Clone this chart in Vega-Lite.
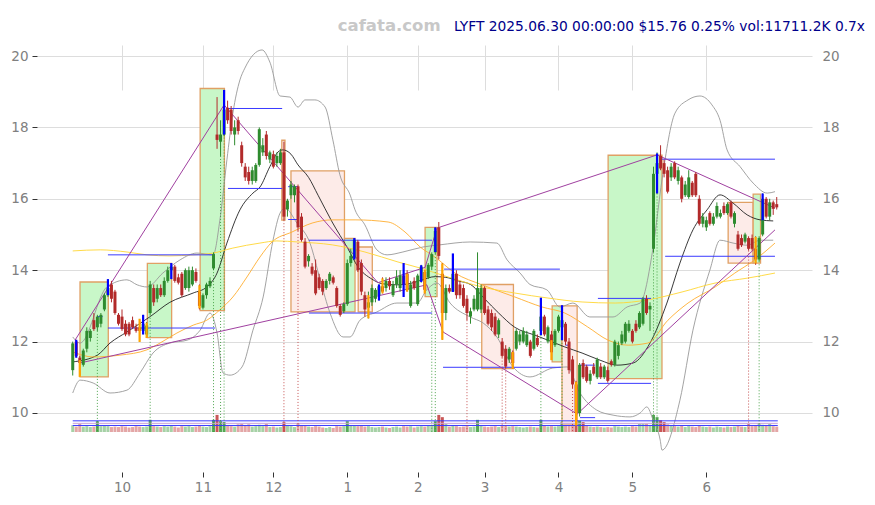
{
  "$schema": "https://vega.github.io/schema/vega-lite/v6.json",
  "width": 775,
  "height": 457,
  "autosize": {"type": "none"},
  "padding": {"left": 37, "top": 10, "right": 63, "bottom": 38},
  "background": "white",
  "config": {
    "view": {"stroke": null},
    "font": "DejaVu Sans",
    "scale": {"continuousPadding": 0},
    "axis": {"labelFont": "DejaVu Sans", "labelColor": "#808080", "labelFontSize": 13.5, "domain": false, "gridColor": "#dddddd", "gridWidth": 1, "tickColor": "#333333", "title": null}
  },
  "datasets": {
    "bars": [
      {"i":0,"o":11.2,"h":12.0,"l":11.05,"c":11.95,"v":15},
      {"i":1,"o":12.0,"h":12.05,"l":11.55,"c":11.6,"v":12},
      {"i":2,"o":11.55,"h":11.6,"l":11.05,"c":11.4,"v":18},
      {"i":3,"o":11.35,"h":11.8,"l":11.3,"c":11.75,"v":12},
      {"i":4,"o":11.8,"h":12.4,"l":11.7,"c":12.3,"v":13},
      {"i":5,"o":12.1,"h":12.35,"l":12.0,"c":12.3,"v":11},
      {"i":6,"o":12.6,"h":12.8,"l":12.3,"c":12.35,"v":12},
      {"i":7,"o":12.4,"h":12.75,"l":12.3,"c":12.7,"v":24},
      {"i":8,"o":12.5,"h":12.8,"l":12.4,"c":12.75,"v":13},
      {"i":9,"o":12.9,"h":13.35,"l":12.85,"c":13.3,"v":14},
      {"i":10,"o":13.3,"h":13.75,"l":13.25,"c":13.5,"v":13},
      {"i":11,"o":13.6,"h":13.7,"l":13.1,"c":13.2,"v":11},
      {"i":12,"o":13.4,"h":13.45,"l":12.75,"c":12.8,"v":12},
      {"i":13,"o":12.75,"h":12.8,"l":12.45,"c":12.5,"v":11},
      {"i":14,"o":12.7,"h":12.9,"l":12.3,"c":12.35,"v":13},
      {"i":15,"o":12.5,"h":12.6,"l":12.15,"c":12.2,"v":12},
      {"i":16,"o":12.5,"h":12.55,"l":12.15,"c":12.2,"v":10},
      {"i":17,"o":12.6,"h":12.7,"l":12.35,"c":12.4,"v":11},
      {"i":18,"o":12.4,"h":12.5,"l":12.25,"c":12.3,"v":13},
      {"i":19,"o":12.4,"h":12.6,"l":12.0,"c":12.3,"v":12},
      {"i":20,"o":12.3,"h":12.75,"l":12.2,"c":12.5,"v":11},
      {"i":21,"o":12.2,"h":12.55,"l":12.1,"c":12.45,"v":12},
      {"i":22,"o":12.8,"h":13.7,"l":12.75,"c":13.6,"v":27},
      {"i":23,"o":13.5,"h":13.6,"l":13.0,"c":13.1,"v":13},
      {"i":24,"o":13.2,"h":13.6,"l":13.1,"c":13.5,"v":12},
      {"i":25,"o":13.5,"h":13.6,"l":13.25,"c":13.3,"v":11},
      {"i":26,"o":13.3,"h":13.8,"l":13.25,"c":13.7,"v":13},
      {"i":27,"o":13.7,"h":14.1,"l":13.65,"c":14.0,"v":12},
      {"i":28,"o":14.0,"h":14.2,"l":13.75,"c":14.1,"v":14},
      {"i":29,"o":14.1,"h":14.15,"l":13.65,"c":13.7,"v":12},
      {"i":30,"o":13.8,"h":13.9,"l":13.6,"c":13.65,"v":10},
      {"i":31,"o":13.9,"h":13.95,"l":13.25,"c":13.3,"v":13},
      {"i":32,"o":13.5,"h":14.05,"l":13.45,"c":14.0,"v":12},
      {"i":33,"o":13.5,"h":14.1,"l":13.4,"c":14.0,"v":13},
      {"i":34,"o":13.6,"h":14.1,"l":13.55,"c":14.0,"v":11},
      {"i":35,"o":13.95,"h":14.05,"l":13.65,"c":13.7,"v":12},
      {"i":36,"o":13.4,"h":13.6,"l":12.9,"c":13.0,"v":14},
      {"i":37,"o":12.95,"h":13.35,"l":12.9,"c":13.3,"v":12},
      {"i":38,"o":13.3,"h":13.65,"l":13.2,"c":13.6,"v":11},
      {"i":39,"o":13.55,"h":13.8,"l":13.5,"c":13.7,"v":13},
      {"i":40,"o":14.05,"h":14.5,"l":14.0,"c":14.45,"v":27},
      {"i":41,"o":17.8,"h":18.85,"l":17.4,"c":17.65,"v":38},
      {"i":42,"o":17.6,"h":18.2,"l":17.2,"c":17.8,"v":24},
      {"i":43,"o":17.8,"h":19.05,"l":17.75,"c":18.5,"v":22},
      {"i":44,"o":18.55,"h":18.75,"l":18.1,"c":18.2,"v":14},
      {"i":45,"o":18.5,"h":18.6,"l":17.8,"c":17.9,"v":13},
      {"i":46,"o":17.8,"h":18.2,"l":17.5,"c":18.0,"v":12},
      {"i":47,"o":18.2,"h":18.3,"l":17.8,"c":17.9,"v":17},
      {"i":48,"o":17.5,"h":17.6,"l":16.9,"c":17.0,"v":18},
      {"i":49,"o":16.9,"h":17.0,"l":16.5,"c":16.6,"v":15},
      {"i":50,"o":16.75,"h":16.9,"l":16.4,"c":16.5,"v":17},
      {"i":51,"o":16.5,"h":16.9,"l":16.4,"c":16.8,"v":12},
      {"i":52,"o":16.5,"h":17.0,"l":16.45,"c":16.95,"v":13},
      {"i":53,"o":16.95,"h":18.0,"l":16.9,"c":17.95,"v":16},
      {"i":54,"o":17.3,"h":17.7,"l":17.2,"c":17.5,"v":13},
      {"i":55,"o":17.8,"h":17.9,"l":17.1,"c":17.2,"v":18},
      {"i":56,"o":17.1,"h":17.35,"l":17.0,"c":17.3,"v":11},
      {"i":57,"o":17.25,"h":17.35,"l":16.85,"c":16.9,"v":12},
      {"i":58,"o":17.0,"h":17.3,"l":16.9,"c":17.2,"v":10},
      {"i":59,"o":17.0,"h":17.4,"l":16.95,"c":17.3,"v":11},
      {"i":60,"o":17.3,"h":17.6,"l":15.4,"c":15.5,"v":22},
      {"i":61,"o":15.7,"h":16.0,"l":15.5,"c":15.95,"v":14},
      {"i":62,"o":16.1,"h":16.5,"l":16.0,"c":16.4,"v":13},
      {"i":63,"o":16.1,"h":16.4,"l":15.9,"c":16.35,"v":11},
      {"i":64,"o":16.35,"h":16.4,"l":15.1,"c":15.2,"v":20},
      {"i":65,"o":15.5,"h":15.6,"l":14.8,"c":14.85,"v":15},
      {"i":66,"o":14.8,"h":14.9,"l":14.05,"c":14.1,"v":14},
      {"i":67,"o":14.25,"h":14.45,"l":14.1,"c":14.4,"v":12},
      {"i":68,"o":14.1,"h":14.2,"l":13.85,"c":13.9,"v":11},
      {"i":69,"o":14.0,"h":14.3,"l":13.3,"c":13.35,"v":13},
      {"i":70,"o":13.8,"h":13.9,"l":13.45,"c":13.5,"v":12},
      {"i":71,"o":13.7,"h":13.75,"l":13.3,"c":13.4,"v":10},
      {"i":72,"o":13.5,"h":13.75,"l":13.45,"c":13.7,"v":9},
      {"i":73,"o":13.7,"h":13.95,"l":13.6,"c":13.9,"v":11},
      {"i":74,"o":13.8,"h":13.85,"l":13.6,"c":13.65,"v":9},
      {"i":75,"o":13.5,"h":13.55,"l":12.95,"c":13.0,"v":13},
      {"i":76,"o":13.0,"h":13.05,"l":12.7,"c":12.75,"v":12},
      {"i":77,"o":12.85,"h":13.1,"l":12.8,"c":13.05,"v":13},
      {"i":78,"o":13.05,"h":14.3,"l":13.0,"c":14.2,"v":24},
      {"i":79,"o":14.2,"h":14.6,"l":14.1,"c":14.4,"v":15},
      {"i":80,"o":14.35,"h":14.9,"l":14.3,"c":14.85,"v":14},
      {"i":81,"o":14.8,"h":14.85,"l":13.95,"c":14.0,"v":13},
      {"i":82,"o":14.2,"h":14.3,"l":13.3,"c":13.4,"v":14},
      {"i":83,"o":13.3,"h":13.4,"l":12.7,"c":12.9,"v":12},
      {"i":84,"o":12.95,"h":13.4,"l":12.65,"c":13.1,"v":13},
      {"i":85,"o":13.1,"h":13.6,"l":13.0,"c":13.5,"v":11},
      {"i":86,"o":13.2,"h":13.5,"l":13.1,"c":13.45,"v":10},
      {"i":87,"o":13.3,"h":13.6,"l":13.15,"c":13.55,"v":11},
      {"i":88,"o":13.55,"h":13.8,"l":13.35,"c":13.4,"v":12},
      {"i":89,"o":13.5,"h":13.8,"l":13.4,"c":13.7,"v":10},
      {"i":90,"o":13.7,"h":13.8,"l":13.45,"c":13.55,"v":9},
      {"i":91,"o":13.3,"h":13.7,"l":13.25,"c":13.6,"v":11},
      {"i":92,"o":13.6,"h":14.0,"l":13.5,"c":13.8,"v":12},
      {"i":93,"o":13.5,"h":14.0,"l":13.4,"c":13.85,"v":10},
      {"i":94,"o":13.85,"h":14.2,"l":13.25,"c":13.6,"v":13},
      {"i":95,"o":13.9,"h":14.0,"l":13.4,"c":13.45,"v":12},
      {"i":96,"o":13.0,"h":13.7,"l":12.95,"c":13.6,"v":13},
      {"i":97,"o":13.7,"h":13.8,"l":13.45,"c":13.5,"v":10},
      {"i":98,"o":13.05,"h":13.9,"l":13.0,"c":13.85,"v":12},
      {"i":99,"o":13.7,"h":14.15,"l":13.65,"c":14.1,"v":13},
      {"i":100,"o":13.95,"h":14.0,"l":13.35,"c":13.45,"v":12},
      {"i":101,"o":13.8,"h":14.2,"l":13.75,"c":14.15,"v":14},
      {"i":102,"o":14.1,"h":14.5,"l":14.0,"c":14.45,"v":15},
      {"i":103,"o":14.5,"h":15.2,"l":14.45,"c":15.1,"v":24},
      {"i":104,"o":15.2,"h":15.35,"l":14.3,"c":14.4,"v":38},
      {"i":105,"o":13.9,"h":14.2,"l":12.05,"c":12.8,"v":33},
      {"i":106,"o":12.8,"h":13.6,"l":12.6,"c":13.5,"v":18},
      {"i":107,"o":13.5,"h":13.6,"l":13.35,"c":13.4,"v":12},
      {"i":108,"o":13.4,"h":14.45,"l":13.4,"c":13.9,"v":15},
      {"i":109,"o":13.9,"h":14.0,"l":13.2,"c":13.3,"v":13},
      {"i":110,"o":13.6,"h":13.7,"l":13.2,"c":13.3,"v":11},
      {"i":111,"o":13.5,"h":13.6,"l":12.95,"c":13.0,"v":12},
      {"i":112,"o":13.2,"h":13.3,"l":12.6,"c":12.8,"v":13},
      {"i":113,"o":12.7,"h":12.95,"l":12.5,"c":12.85,"v":11},
      {"i":114,"o":12.9,"h":13.3,"l":12.85,"c":13.2,"v":12},
      {"i":115,"o":12.9,"h":14.5,"l":12.85,"c":13.5,"v":27},
      {"i":116,"o":12.9,"h":13.6,"l":12.8,"c":13.5,"v":14},
      {"i":117,"o":13.5,"h":13.55,"l":12.75,"c":12.8,"v":12},
      {"i":118,"o":12.9,"h":13.0,"l":12.45,"c":12.5,"v":11},
      {"i":119,"o":12.8,"h":12.9,"l":12.3,"c":12.4,"v":12},
      {"i":120,"o":12.7,"h":12.8,"l":12.15,"c":12.2,"v":13},
      {"i":121,"o":12.2,"h":12.65,"l":12.1,"c":12.6,"v":11},
      {"i":122,"o":12.0,"h":12.1,"l":11.55,"c":11.6,"v":14},
      {"i":123,"o":11.8,"h":11.9,"l":11.25,"c":11.3,"v":13},
      {"i":124,"o":11.5,"h":11.85,"l":11.4,"c":11.8,"v":12},
      {"i":125,"o":11.7,"h":11.75,"l":11.24,"c":11.4,"v":13},
      {"i":126,"o":11.8,"h":12.35,"l":11.75,"c":12.3,"v":12},
      {"i":127,"o":12.0,"h":12.3,"l":11.9,"c":12.2,"v":11},
      {"i":128,"o":12.0,"h":12.4,"l":11.95,"c":12.3,"v":10},
      {"i":129,"o":11.9,"h":12.3,"l":11.85,"c":12.2,"v":11},
      {"i":130,"o":12.0,"h":12.05,"l":11.55,"c":11.6,"v":12},
      {"i":131,"o":11.8,"h":12.35,"l":11.75,"c":12.3,"v":11},
      {"i":132,"o":12.1,"h":12.2,"l":11.85,"c":11.9,"v":10},
      {"i":133,"o":12.3,"h":13.2,"l":12.2,"c":12.7,"v":27},
      {"i":134,"o":12.7,"h":12.75,"l":12.15,"c":12.2,"v":14},
      {"i":135,"o":12.0,"h":12.45,"l":11.95,"c":12.4,"v":12},
      {"i":136,"o":12.2,"h":12.3,"l":11.5,"c":11.7,"v":13},
      {"i":137,"o":11.9,"h":12.35,"l":11.85,"c":12.3,"v":12},
      {"i":138,"o":12.3,"h":12.75,"l":12.25,"c":12.7,"v":13},
      {"i":139,"o":12.4,"h":13.0,"l":12.05,"c":12.6,"v":22},
      {"i":140,"o":12.5,"h":12.55,"l":11.9,"c":12.0,"v":14},
      {"i":141,"o":12.0,"h":12.1,"l":11.1,"c":11.2,"v":16},
      {"i":142,"o":11.5,"h":11.6,"l":10.7,"c":10.8,"v":18},
      {"i":143,"o":10.8,"h":10.9,"l":9.65,"c":10.0,"v":27},
      {"i":144,"o":10.0,"h":11.4,"l":9.9,"c":11.35,"v":25},
      {"i":145,"o":11.4,"h":11.5,"l":10.95,"c":11.0,"v":22},
      {"i":146,"o":11.3,"h":11.35,"l":10.85,"c":10.9,"v":14},
      {"i":147,"o":10.9,"h":11.2,"l":10.8,"c":11.1,"v":12},
      {"i":148,"o":11.3,"h":11.4,"l":11.05,"c":11.1,"v":11},
      {"i":149,"o":11.0,"h":11.55,"l":10.95,"c":11.5,"v":12},
      {"i":150,"o":11.3,"h":11.4,"l":10.95,"c":11.0,"v":11},
      {"i":151,"o":11.0,"h":11.35,"l":10.95,"c":11.3,"v":10},
      {"i":152,"o":11.2,"h":11.3,"l":10.85,"c":10.9,"v":11},
      {"i":153,"o":11.45,"h":11.5,"l":11.3,"c":11.35,"v":10},
      {"i":154,"o":11.35,"h":12.05,"l":11.3,"c":12.0,"v":13},
      {"i":155,"o":11.6,"h":12.0,"l":11.5,"c":11.9,"v":12},
      {"i":156,"o":11.95,"h":12.3,"l":11.9,"c":12.2,"v":11},
      {"i":157,"o":12.0,"h":12.55,"l":11.95,"c":12.5,"v":12},
      {"i":158,"o":12.3,"h":12.6,"l":12.25,"c":12.5,"v":11},
      {"i":159,"o":12.3,"h":12.35,"l":11.95,"c":12.0,"v":13},
      {"i":160,"o":12.5,"h":12.6,"l":12.25,"c":12.3,"v":12},
      {"i":161,"o":12.4,"h":12.85,"l":12.35,"c":12.8,"v":18},
      {"i":162,"o":12.5,"h":13.25,"l":12.45,"c":13.2,"v":18},
      {"i":163,"o":13.2,"h":13.3,"l":12.75,"c":12.8,"v":18},
      {"i":164,"o":12.9,"h":13.1,"l":12.3,"c":13.0,"v":14},
      {"i":165,"o":14.6,"h":16.9,"l":14.5,"c":16.7,"v":38},
      {"i":166,"o":16.7,"h":17.3,"l":16.15,"c":17.0,"v":33},
      {"i":167,"o":17.2,"h":17.5,"l":16.8,"c":16.85,"v":26},
      {"i":168,"o":17.0,"h":17.1,"l":16.6,"c":16.7,"v":22},
      {"i":169,"o":16.8,"h":16.9,"l":16.15,"c":16.2,"v":17},
      {"i":170,"o":16.6,"h":17.0,"l":16.5,"c":16.9,"v":15},
      {"i":171,"o":17.0,"h":17.05,"l":16.55,"c":16.6,"v":13},
      {"i":172,"o":16.5,"h":16.9,"l":16.4,"c":16.8,"v":12},
      {"i":173,"o":16.6,"h":16.65,"l":15.9,"c":16.0,"v":14},
      {"i":174,"o":16.1,"h":16.5,"l":16.05,"c":16.4,"v":11},
      {"i":175,"o":16.05,"h":16.8,"l":16.0,"c":16.6,"v":13},
      {"i":176,"o":16.45,"h":16.5,"l":16.05,"c":16.1,"v":12},
      {"i":177,"o":16.7,"h":16.75,"l":16.05,"c":16.1,"v":11},
      {"i":178,"o":16.0,"h":16.1,"l":15.25,"c":15.3,"v":14},
      {"i":179,"o":15.3,"h":15.6,"l":15.2,"c":15.5,"v":12},
      {"i":180,"o":15.2,"h":15.5,"l":15.1,"c":15.4,"v":11},
      {"i":181,"o":15.6,"h":15.65,"l":15.25,"c":15.3,"v":12},
      {"i":182,"o":15.3,"h":15.6,"l":15.25,"c":15.5,"v":10},
      {"i":183,"o":15.5,"h":15.9,"l":15.45,"c":15.8,"v":12},
      {"i":184,"o":15.5,"h":15.7,"l":15.45,"c":15.6,"v":11},
      {"i":185,"o":15.8,"h":15.9,"l":15.55,"c":15.6,"v":10},
      {"i":186,"o":15.6,"h":15.9,"l":15.55,"c":15.85,"v":12},
      {"i":187,"o":15.9,"h":15.95,"l":15.45,"c":15.5,"v":11},
      {"i":188,"o":15.3,"h":15.65,"l":15.2,"c":15.6,"v":12},
      {"i":189,"o":15.0,"h":15.1,"l":14.55,"c":14.6,"v":14},
      {"i":190,"o":14.9,"h":15.0,"l":14.65,"c":14.7,"v":12},
      {"i":191,"o":14.8,"h":15.05,"l":14.75,"c":15.0,"v":11},
      {"i":192,"o":14.9,"h":14.95,"l":14.55,"c":14.6,"v":18},
      {"i":193,"o":14.9,"h":15.0,"l":14.55,"c":14.6,"v":13},
      {"i":194,"o":14.6,"h":14.95,"l":14.15,"c":14.3,"v":15},
      {"i":195,"o":14.3,"h":14.95,"l":14.25,"c":14.9,"v":20},
      {"i":196,"o":15.0,"h":16.15,"l":14.95,"c":16.0,"v":16},
      {"i":197,"o":16.0,"h":16.05,"l":15.45,"c":15.5,"v":14},
      {"i":198,"o":15.5,"h":16.0,"l":15.4,"c":15.9,"v":18},
      {"i":199,"o":15.9,"h":15.95,"l":15.55,"c":15.72,"v":13},
      {"i":200,"o":15.85,"h":16.05,"l":15.7,"c":15.76,"v":12}
    ],
    "lines": [
      {"s":"ma20","i":0,"p":11.43},{"s":"ma20","i":7,"p":11.62},{"s":"ma20","i":10.6,"p":11.96},{"s":"ma20","i":15.4,"p":12.27},{"s":"ma20","i":22,"p":12.7},{"s":"ma20","i":27.6,"p":13.1},{"s":"ma20","i":34.2,"p":13.36},{"s":"ma20","i":38.1,"p":13.53},{"s":"ma20","i":41,"p":13.92},{"s":"ma20","i":43.8,"p":14.76},{"s":"ma20","i":47.5,"p":15.69},{"s":"ma20","i":51.2,"p":16.16},{"s":"ma20","i":53.2,"p":16.33},{"s":"ma20","i":56,"p":16.9},{"s":"ma20","i":58.3,"p":17.31},{"s":"ma20","i":59.7,"p":17.37},{"s":"ma20","i":62,"p":17.25},{"s":"ma20","i":64,"p":16.95},{"s":"ma20","i":67,"p":16.6},{"s":"ma20","i":69.7,"p":16.1},{"s":"ma20","i":73.7,"p":15.35},{"s":"ma20","i":78.2,"p":14.6},{"s":"ma20","i":81,"p":14.1},{"s":"ma20","i":85,"p":13.75},{"s":"ma20","i":88,"p":13.62},{"s":"ma20","i":92.4,"p":13.59},{"s":"ma20","i":96,"p":13.63},{"s":"ma20","i":99,"p":13.72},{"s":"ma20","i":103,"p":13.82},{"s":"ma20","i":106,"p":13.8},{"s":"ma20","i":109.5,"p":13.7},{"s":"ma20","i":113,"p":13.6},{"s":"ma20","i":117,"p":13.2},{"s":"ma20","i":121,"p":12.8},{"s":"ma20","i":125.6,"p":12.4},{"s":"ma20","i":131.3,"p":12.18},{"s":"ma20","i":135,"p":12.04},{"s":"ma20","i":139.8,"p":11.85},{"s":"ma20","i":144.7,"p":11.68},{"s":"ma20","i":149.8,"p":11.48},{"s":"ma20","i":154.6,"p":11.34},{"s":"ma20","i":159.2,"p":11.4},{"s":"ma20","i":164,"p":11.96},{"s":"ma20","i":168.8,"p":13.08},{"s":"ma20","i":172.5,"p":14.2},{"s":"ma20","i":176.2,"p":15.13},{"s":"ma20","i":180.2,"p":15.69},{"s":"ma20","i":183.9,"p":16.11},{"s":"ma20","i":187.6,"p":15.88},{"s":"ma20","i":191.6,"p":15.55},{"s":"ma20","i":195.3,"p":15.41},{"s":"ma20","i":199,"p":15.38},
      {"s":"bbu","i":0,"p":12.13},{"s":"bbu","i":2.1,"p":11.96},{"s":"bbu","i":9.7,"p":13.53},{"s":"bbu","i":15.4,"p":13.73},{"s":"bbu","i":18.3,"p":13.59},{"s":"bbu","i":21.1,"p":13.53},{"s":"bbu","i":25.6,"p":13.92},{"s":"bbu","i":30.5,"p":14.29},{"s":"bbu","i":35.3,"p":14.48},{"s":"bbu","i":39.9,"p":14.43},{"s":"bbu","i":41.8,"p":15.4},{"s":"bbu","i":43.8,"p":17.09},{"s":"bbu","i":45.5,"p":18.4},{"s":"bbu","i":47.5,"p":19.33},{"s":"bbu","i":48.9,"p":19.66},{"s":"bbu","i":53.8,"p":20.17},{"s":"bbu","i":56,"p":19.83},{"s":"bbu","i":58.9,"p":18.88},{"s":"bbu","i":61.7,"p":18.85},{"s":"bbu","i":64,"p":18.57},{"s":"bbu","i":66,"p":18.77},{"s":"bbu","i":68.8,"p":18.77},{"s":"bbu","i":71.7,"p":18.57},{"s":"bbu","i":73.9,"p":17.65},{"s":"bbu","i":75.9,"p":16.67},{"s":"bbu","i":78.8,"p":16.11},{"s":"bbu","i":80.2,"p":15.69},{"s":"bbu","i":83,"p":15.27},{"s":"bbu","i":86.4,"p":14.57},{"s":"bbu","i":89.3,"p":14.43},{"s":"bbu","i":93.8,"p":14.51},{"s":"bbu","i":99.5,"p":14.65},{"s":"bbu","i":104.3,"p":14.71},{"s":"bbu","i":112.9,"p":14.79},{"s":"bbu","i":120.5,"p":14.76},{"s":"bbu","i":123.4,"p":14.29},{"s":"bbu","i":127.1,"p":13.92},{"s":"bbu","i":129.9,"p":13.6},{"s":"bbu","i":134.7,"p":13.45},{"s":"bbu","i":138.4,"p":12.97},{"s":"bbu","i":142.1,"p":13.08},{"s":"bbu","i":146.9,"p":12.69},{"s":"bbu","i":153.5,"p":12.69},{"s":"bbu","i":157.5,"p":12.97},{"s":"bbu","i":161.2,"p":13.08},{"s":"bbu","i":164.9,"p":14.65},{"s":"bbu","i":167.4,"p":16.53},{"s":"bbu","i":171.1,"p":18.4},{"s":"bbu","i":174.8,"p":18.77},{"s":"bbu","i":178.2,"p":18.88},{"s":"bbu","i":181.6,"p":18.63},{"s":"bbu","i":183.9,"p":18.2},{"s":"bbu","i":185.9,"p":17.37},{"s":"bbu","i":189.6,"p":16.9},{"s":"bbu","i":193.3,"p":16.44},{"s":"bbu","i":197.3,"p":16.16},{"s":"bbu","i":199.5,"p":16.2},
      {"s":"bbl","i":0,"p":10.56},{"s":"bbl","i":2.1,"p":10.92},{"s":"bbl","i":5.8,"p":10.84},{"s":"bbl","i":10.6,"p":10.56},{"s":"bbl","i":15.4,"p":10.64},{"s":"bbl","i":19.1,"p":11.12},{"s":"bbl","i":22.8,"p":11.68},{"s":"bbl","i":27.6,"p":11.96},{"s":"bbl","i":32.5,"p":12.04},{"s":"bbl","i":36.2,"p":12.32},{"s":"bbl","i":39,"p":12.8},{"s":"bbl","i":41,"p":12.24},{"s":"bbl","i":42.7,"p":11.12},{"s":"bbl","i":44.7,"p":11.06},{"s":"bbl","i":48.1,"p":11.29},{"s":"bbl","i":51.2,"p":12.32},{"s":"bbl","i":54.1,"p":13.25},{"s":"bbl","i":56.9,"p":14.84},{"s":"bbl","i":58.9,"p":15.6},{"s":"bbl","i":60.3,"p":15.74},{"s":"bbl","i":63.7,"p":15.32},{"s":"bbl","i":67.4,"p":14.76},{"s":"bbl","i":70.3,"p":13.73},{"s":"bbl","i":73.1,"p":12.8},{"s":"bbl","i":76.8,"p":12.13},{"s":"bbl","i":78.8,"p":12.13},{"s":"bbl","i":81.6,"p":12.6},{"s":"bbl","i":86.4,"p":12.83},{"s":"bbl","i":92.1,"p":13.08},{"s":"bbl","i":97.8,"p":13.08},{"s":"bbl","i":100.6,"p":13.45},{"s":"bbl","i":103.5,"p":13.64},{"s":"bbl","i":107.2,"p":13.08},{"s":"bbl","i":112.9,"p":12.69},{"s":"bbl","i":116.6,"p":12.52},{"s":"bbl","i":120.5,"p":12.13},{"s":"bbl","i":125.1,"p":11.29},{"s":"bbl","i":129.9,"p":11.01},{"s":"bbl","i":136.4,"p":11.26},{"s":"bbl","i":140.4,"p":11.29},{"s":"bbl","i":144.1,"p":10.56},{"s":"bbl","i":148.9,"p":10.08},{"s":"bbl","i":153.5,"p":9.94},{"s":"bbl","i":158.3,"p":9.89},{"s":"bbl","i":161.2,"p":10.0},{"s":"bbl","i":163.1,"p":10.17},{"s":"bbl","i":164.9,"p":9.8},{"s":"bbl","i":166.9,"p":9.24},{"s":"bbl","i":167.4,"p":8.96},{"s":"bbl","i":172.5,"p":10.36},{"s":"bbl","i":176.2,"p":12.32},{"s":"bbl","i":181,"p":14.0},{"s":"bbl","i":183.9,"p":14.84},{"s":"bbl","i":187.6,"p":14.76},{"s":"bbl","i":191.6,"p":14.7},{"s":"bbl","i":195.3,"p":14.84},{"s":"bbl","i":199,"p":14.84},
      {"s":"ma50","i":0,"p":11.71},{"s":"ma50","i":5.8,"p":11.57},{"s":"ma50","i":13.4,"p":11.62},{"s":"ma50","i":21.1,"p":11.77},{"s":"ma50","i":24.8,"p":11.96},{"s":"ma50","i":29.6,"p":12.24},{"s":"ma50","i":34.2,"p":12.46},{"s":"ma50","i":38.1,"p":12.6},{"s":"ma50","i":41.8,"p":12.89},{"s":"ma50","i":45.5,"p":13.25},{"s":"ma50","i":49.5,"p":13.81},{"s":"ma50","i":53.2,"p":14.37},{"s":"ma50","i":56.6,"p":14.79},{"s":"ma50","i":62.3,"p":15.07},{"s":"ma50","i":68,"p":15.32},{"s":"ma50","i":73.7,"p":15.41},{"s":"ma50","i":80.2,"p":15.41},{"s":"ma50","i":89.6,"p":15.35},{"s":"ma50","i":94.4,"p":15.07},{"s":"ma50","i":98.7,"p":14.65},{"s":"ma50","i":102.9,"p":14.37},{"s":"ma50","i":108.6,"p":13.92},{"s":"ma50","i":116.3,"p":13.59},{"s":"ma50","i":125.6,"p":13.25},{"s":"ma50","i":133.3,"p":12.97},{"s":"ma50","i":139.8,"p":12.8},{"s":"ma50","i":146.3,"p":12.41},{"s":"ma50","i":152.1,"p":12.04},{"s":"ma50","i":157.8,"p":11.9},{"s":"ma50","i":163.4,"p":11.96},{"s":"ma50","i":169.1,"p":12.6},{"s":"ma50","i":174.8,"p":13.08},{"s":"ma50","i":182.5,"p":13.53},{"s":"ma50","i":188.1,"p":13.92},{"s":"ma50","i":193.8,"p":14.29},{"s":"ma50","i":199.5,"p":14.76},
      {"s":"ma200","i":0,"p":14.54},{"s":"ma200","i":7.8,"p":14.57},{"s":"ma200","i":15.4,"p":14.51},{"s":"ma200","i":21.1,"p":14.43},{"s":"ma200","i":27.6,"p":14.4},{"s":"ma200","i":34.2,"p":14.43},{"s":"ma200","i":39.9,"p":14.48},{"s":"ma200","i":45.5,"p":14.62},{"s":"ma200","i":53.2,"p":14.76},{"s":"ma200","i":58,"p":14.82},{"s":"ma200","i":64,"p":14.79},{"s":"ma200","i":73.7,"p":14.71},{"s":"ma200","i":83,"p":14.51},{"s":"ma200","i":92.4,"p":14.23},{"s":"ma200","i":98.7,"p":14.06},{"s":"ma200","i":106.6,"p":13.81},{"s":"ma200","i":116.3,"p":13.53},{"s":"ma200","i":125.6,"p":13.36},{"s":"ma200","i":135,"p":13.22},{"s":"ma200","i":144.7,"p":13.11},{"s":"ma200","i":154.1,"p":13.08},{"s":"ma200","i":163.4,"p":13.17},{"s":"ma200","i":173.1,"p":13.39},{"s":"ma200","i":182.5,"p":13.64},{"s":"ma200","i":191.8,"p":13.78},{"s":"ma200","i":199.5,"p":13.92}
    ],
    "zig": [
      {"seg":"a","i":0.65,"p":12.04},{"seg":"a","i":43,"p":18.63},
      {"seg":"b","i":43,"p":18.63},{"seg":"b","i":86.7,"p":13.65},
      {"seg":"c","i":86.7,"p":13.65},{"seg":"c","i":100.1,"p":14.08},{"seg":"c","i":103.5,"p":15.18},
      {"seg":"d","i":2.07,"p":11.4},{"seg":"d","i":100.6,"p":13.59},
      {"seg":"e","i":100.6,"p":13.59},{"seg":"e","i":105.2,"p":12.27},{"seg":"e","i":143.3,"p":9.97},
      {"seg":"f","i":103.5,"p":15.18},{"seg":"f","i":166,"p":17.23},
      {"seg":"g","i":143.3,"p":9.97},{"seg":"g","i":199.5,"p":15.13},
      {"seg":"h","i":166,"p":17.23},{"seg":"h","i":199.5,"p":15.74}
    ],
    "boxes": [
      {"i1":2.07,"i2":10.1,"p1":11.01,"p2":13.67,"t":"up"},
      {"i1":21.2,"i2":28.1,"p1":12.11,"p2":14.19,"t":"up"},
      {"i1":36.2,"i2":43.1,"p1":12.87,"p2":19.09,"t":"up"},
      {"i1":59.4,"i2":60.3,"p1":15.4,"p2":17.64,"t":"down"},
      {"i1":62.0,"i2":77.2,"p1":12.83,"p2":16.78,"t":"down"},
      {"i1":77.2,"i2":80.2,"p1":12.83,"p2":14.89,"t":"up"},
      {"i1":81.1,"i2":85.1,"p1":12.83,"p2":14.65,"t":"down"},
      {"i1":100.1,"i2":103.5,"p1":13.26,"p2":15.2,"t":"up"},
      {"i1":116.2,"i2":125.2,"p1":11.24,"p2":13.6,"t":"down"},
      {"i1":136.2,"i2":139.0,"p1":11.43,"p2":13.0,"t":"up"},
      {"i1":139.0,"i2":143.3,"p1":9.66,"p2":13.0,"t":"down"},
      {"i1":152.1,"i2":167.4,"p1":10.96,"p2":17.22,"t":"up"},
      {"i1":186.2,"i2":193.3,"p1":14.2,"p2":15.9,"t":"down"},
      {"i1":193.3,"i2":195.4,"p1":14.2,"p2":16.13,"t":"up"}
    ],
    "hl": [
      {"i1":10,"i2":40.4,"p":14.43,"k":"b"},{"i1":10,"i2":40.4,"p":12.38,"k":"b"},
      {"i1":44.1,"i2":59.5,"p":18.53,"k":"b"},{"i1":44.1,"i2":59.5,"p":16.29,"k":"b"},
      {"i1":67.1,"i2":102.1,"p":14.84,"k":"b"},{"i1":67.1,"i2":102.1,"p":12.8,"k":"b"},
      {"i1":105.5,"i2":138.4,"p":14.03,"k":"b"},{"i1":105.2,"i2":138.7,"p":11.28,"k":"b"},
      {"i1":149.2,"i2":164.3,"p":13.21,"k":"b"},{"i1":149.2,"i2":164.3,"p":10.83,"k":"b"},
      {"i1":167.4,"i2":199.5,"p":17.11,"k":"b"},{"i1":168.3,"i2":199.5,"p":14.39,"k":"b"},
      {"i1":6.9,"i2":8.5,"p":12.7,"k":"b"},{"i1":61.2,"i2":64,"p":16.34,"k":"b"},{"i1":61.2,"i2":64,"p":15.42,"k":"b"},
      {"i1":144.1,"i2":148.4,"p":11.34,"k":"b"},{"i1":144.1,"i2":148.4,"p":9.87,"k":"b"},{"i1":140,"i2":141.3,"p":11.9,"k":"b"},
      {"i1":0,"i2":200.3,"p":9.78,"k":"b"},{"i1":0,"i2":200.3,"p":9.71,"k":"m"},{"i1":0,"i2":200.3,"p":9.65,"k":"b"}
    ],
    "vl": [
      {"i":7,"p":12.3,"t":"up"},{"i":22,"p":12.75,"t":"up"},{"i":40,"p":14.45,"t":"up"},{"i":42,"p":17.2,"t":"up"},{"i":43,"p":17.8,"t":"up"},
      {"i":60,"p":15.4,"t":"down"},{"i":64,"p":15.1,"t":"down"},{"i":102,"p":13.2,"t":"up"},{"i":103,"p":14.45,"t":"up"},
      {"i":112,"p":12.6,"t":"down"},{"i":122,"p":11.55,"t":"down"},{"i":123,"p":11.25,"t":"down"},{"i":133,"p":12.18,"t":"up"},
      {"i":139,"p":12.05,"t":"up"},{"i":142,"p":10.7,"t":"down"},{"i":165,"p":14.5,"t":"up"},{"i":166,"p":16.15,"t":"up"},
      {"i":192,"p":14.55,"t":"down"},{"i":195,"p":14.25,"t":"up"}
    ],
    "marks": [
      {"i":1,"p1":11.55,"p2":12.05,"t":"hi"},{"i":10,"p1":13.3,"p2":13.75,"t":"hi"},{"i":20,"p1":12.2,"p2":12.75,"t":"hi"},{"i":28,"p1":13.75,"p2":14.2,"t":"hi"},
      {"i":43,"p1":17.8,"p2":19.05,"t":"hi"},{"i":80,"p1":14.3,"p2":14.9,"t":"hi"},{"i":87,"p1":13.15,"p2":13.6,"t":"hi"},{"i":94,"p1":13.25,"p2":14.2,"t":"hi"},
      {"i":99,"p1":13.67,"p2":14.14,"t":"hi"},{"i":103,"p1":14.51,"p2":15.2,"t":"hi"},{"i":108,"p1":13.39,"p2":14.47,"t":"hi"},{"i":133,"p1":12.18,"p2":13.23,"t":"hi"},
      {"i":139,"p1":12.04,"p2":13.02,"t":"hi"},{"i":166,"p1":16.15,"p2":17.27,"t":"hi"},{"i":196,"p1":15.4,"p2":16.15,"t":"hi"},
      {"i":2,"p1":11.01,"p2":11.48,"t":"lo"},{"i":19,"p1":11.99,"p2":12.64,"t":"lo"},{"i":21,"p1":12.1,"p2":12.53,"t":"lo"},{"i":36,"p1":12.93,"p2":13.58,"t":"lo"},
      {"i":84,"p1":12.65,"p2":13.3,"t":"lo"},{"i":88,"p1":13.35,"p2":13.77,"t":"lo"},{"i":95,"p1":13.4,"p2":13.9,"t":"lo"},{"i":100,"p1":13.35,"p2":14.0,"t":"lo"},
      {"i":105,"p1":12.05,"p2":14.19,"t":"lo"},{"i":125,"p1":11.24,"p2":11.71,"t":"lo"},{"i":136,"p1":11.48,"p2":12.04,"t":"lo"},{"i":143,"p1":9.65,"p2":10.87,"t":"lo"},
      {"i":194,"p1":14.19,"p2":14.93,"t":"lo"}
    ]
  },
  "layer": [
    {
      "data": {"name": "bars"},
      "mark": {"type": "bar", "size": 3},
      "encoding": {
        "x": {"field": "i", "type": "quantitative", "scale": {"domain": [-10.15, 210.02], "nice": false, "zero": false, "padding": 0}},
        "y": {"field": "v", "type": "quantitative", "scale": {"domain": [0, 100], "range": [422, 377], "nice": false}, "axis": null},
        "color": {"condition": {"test": "datum.c >= datum.o", "value": "#3a9a3a"}, "value": "#c03a3a"},
        "opacity": {"condition": {"test": "datum.v > 20", "value": 0.85}, "value": 0.45}
      }
    },
    {
      "layer": [
        {
          "data": {"name": "boxes"},
          "mark": {"type": "rect", "stroke": "#e0a064", "strokeWidth": 1.3},
          "encoding": {
            "x": {"field": "i1", "type": "quantitative", "scale": {"domain": [-10.15, 210.02], "nice": false, "zero": false, "padding": 0}},
            "x2": {"field": "i2"},
            "y": {"field": "p1", "type": "quantitative", "scale": {"domain": [8.487, 21.289], "nice": false, "zero": false}, "axis": null},
            "y2": {"field": "p2"},
            "fill": {"field": "t", "type": "nominal", "scale": {"domain": ["up", "down"], "range": ["#c8f7c8", "#fdebe8"]}, "legend": null}
          }
        },
        {
          "data": {"name": "lines"},
          "mark": {"type": "line", "strokeWidth": 0.9, "interpolate": "monotone"},
          "encoding": {
            "x": {"field": "i", "type": "quantitative", "scale": {"domain": [-10.15, 210.02], "nice": false, "zero": false, "padding": 0}},
            "y": {"field": "p", "type": "quantitative", "scale": {"domain": [8.487, 21.289], "nice": false, "zero": false}, "axis": null},
            "color": {"field": "s", "type": "nominal", "scale": {"domain": ["ma20", "bbu", "bbl", "ma50", "ma200"], "range": ["#222222", "#999999", "#999999", "#ffae30", "#ffd633"]}, "legend": null}
          }
        },
        {
          "data": {"name": "hl"},
          "mark": {"type": "rule", "strokeWidth": 1},
          "encoding": {
            "x": {"field": "i1", "type": "quantitative", "scale": {"domain": [-10.15, 210.02], "nice": false, "zero": false, "padding": 0}},
            "x2": {"field": "i2"},
            "y": {"field": "p", "type": "quantitative", "scale": {"domain": [8.487, 21.289], "nice": false, "zero": false}, "axis": null},
            "color": {"field": "k", "type": "nominal", "scale": {"domain": ["b", "m"], "range": ["#3a3aff", "#c8a0d8"]}, "legend": null}
          }
        },
        {
          "data": {"name": "vl"},
          "mark": {"type": "rule", "strokeWidth": 0.9, "strokeDash": [1, 2]},
          "encoding": {
            "x": {"field": "i", "type": "quantitative", "scale": {"domain": [-10.15, 210.02], "nice": false, "zero": false, "padding": 0}},
            "y": {"field": "p", "type": "quantitative", "scale": {"domain": [8.487, 21.289], "nice": false, "zero": false}, "axis": null},
            "y2": {"datum": 9.47},
            "color": {"field": "t", "type": "nominal", "scale": {"domain": ["up", "down"], "range": ["#3a9a3a", "#c04040"]}, "legend": null}
          }
        },
        {
          "data": {"name": "zig"},
          "mark": {"type": "line", "strokeWidth": 1, "color": "#a040a0"},
          "encoding": {
            "x": {"field": "i", "type": "quantitative", "scale": {"domain": [-10.15, 210.02], "nice": false, "zero": false, "padding": 0}},
            "y": {"field": "p", "type": "quantitative", "scale": {"domain": [8.487, 21.289], "nice": false, "zero": false}, "axis": null},
            "detail": {"field": "seg", "type": "nominal"}
          }
        },
        {
          "data": {"name": "bars"},
          "mark": {"type": "rule", "strokeWidth": 1},
          "encoding": {
            "x": {"field": "i", "type": "quantitative", "scale": {"domain": [-10.15, 210.02], "nice": false, "zero": false, "padding": 0},
              "axis": {"values": [14, 37, 57, 78, 98, 117, 138, 159, 180], "labelExpr": "datum.value==14?'10':datum.value==37?'11':datum.value==57?'12':datum.value==78?'1':datum.value==98?'2':datum.value==117?'3':datum.value==138?'4':datum.value==159?'5':'6'", "grid": true, "ticks": true, "tickSize": 5, "offset": 5, "labelPadding": 3, "title": null}},
            "y": {"field": "l", "type": "quantitative", "scale": {"domain": [8.487, 21.289], "nice": false, "zero": false},
              "axis": {"orient": "left", "values": [10, 12, 14, 16, 18, 20], "grid": true, "ticks": true, "tickSize": 5, "labelPadding": 4, "title": null}},
            "y2": {"field": "h"},
            "color": {"condition": {"test": "datum.c >= datum.o", "value": "#2e8b2e"}, "value": "#b22a2a"}
          }
        },
        {
          "data": {"name": "bars"},
          "mark": {"type": "bar", "size": 3},
          "encoding": {
            "x": {"field": "i", "type": "quantitative", "scale": {"domain": [-10.15, 210.02], "nice": false, "zero": false, "padding": 0}},
            "y": {"field": "o", "type": "quantitative", "scale": {"domain": [8.487, 21.289], "nice": false, "zero": false},
              "axis": {"orient": "right", "values": [10, 12, 14, 16, 18, 20], "grid": false, "ticks": false, "labelPadding": 10, "title": null}},
            "y2": {"field": "c"},
            "color": {"condition": {"test": "datum.c >= datum.o", "value": "#2e8b2e"}, "value": "#b22a2a"}
          }
        },
        {
          "data": {"name": "marks"},
          "mark": {"type": "rule", "strokeWidth": 2.2},
          "encoding": {
            "x": {"field": "i", "type": "quantitative", "scale": {"domain": [-10.15, 210.02], "nice": false, "zero": false, "padding": 0}},
            "y": {"field": "p1", "type": "quantitative", "scale": {"domain": [8.487, 21.289], "nice": false, "zero": false}, "axis": null},
            "y2": {"field": "p2"},
            "color": {"field": "t", "type": "nominal", "scale": {"domain": ["hi", "lo"], "range": ["#0000ff", "#ffa500"]}, "legend": null}
          }
        },
        {
          "data": {"values": [{"label": "cafata.com"}]},
          "mark": {"type": "text", "font": "DejaVu Sans", "fontWeight": "bold", "fontSize": 16.5, "color": "#c8c8c8", "align": "center", "baseline": "middle"},
          "encoding": {
            "x": {"datum": 89.9, "type": "quantitative", "scale": {"domain": [-10.15, 210.02], "nice": false, "zero": false, "padding": 0}},
            "y": {"datum": 20.84, "type": "quantitative", "scale": {"domain": [8.487, 21.289], "nice": false, "zero": false}, "axis": null},
            "text": {"field": "label"}
          }
        },
        {
          "data": {"values": [{"label": "LYFT 2025.06.30 00:00:00 $15.76 0.25% vol:11711.2K 0.7x"}]},
          "mark": {"type": "text", "font": "DejaVu Sans", "fontSize": 13.8, "color": "#00008b", "align": "right", "baseline": "alphabetic"},
          "encoding": {
            "x": {"datum": 225.08, "type": "quantitative", "scale": {"domain": [-10.15, 210.02], "nice": false, "zero": false, "padding": 0}},
            "y": {"datum": 20.70, "type": "quantitative", "scale": {"domain": [8.487, 21.289], "nice": false, "zero": false}, "axis": null},
            "text": {"field": "label"}
          }
        }
      ],
      "resolve": {"axis": {"y": "independent"}, "scale": {"color": "independent"}}
    }
  ],
  "resolve": {"scale": {"y": "independent"}}
}
